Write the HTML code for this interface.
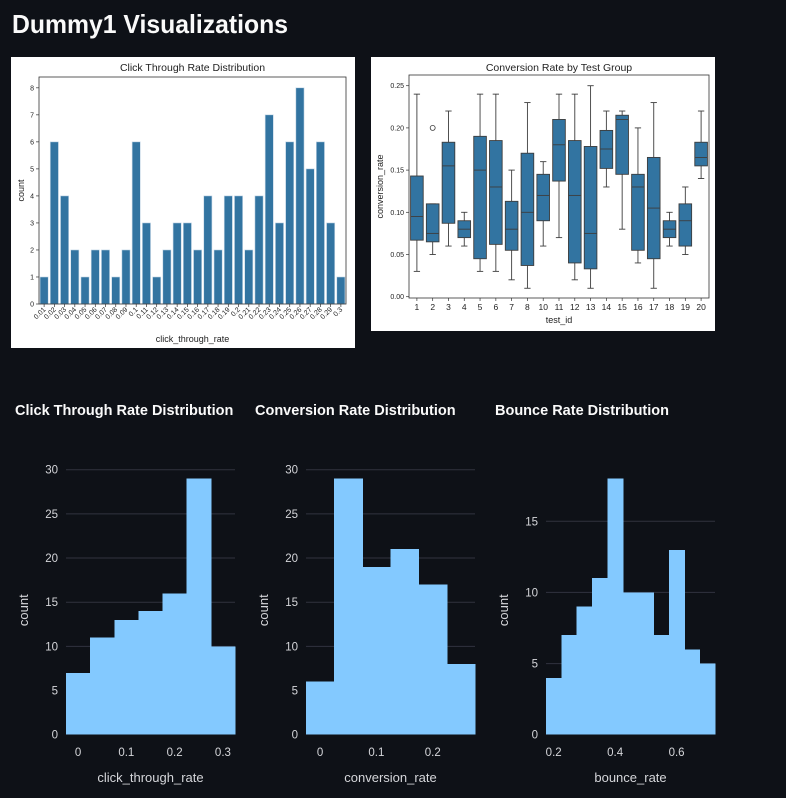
<!DOCTYPE html>
<html><head><meta charset="utf-8"><style>
html,body{margin:0;padding:0;background:#0e1117;}
svg{display:block;font-family:"Liberation Sans",sans-serif;}
</style></head><body>
<svg id="root" width="786" height="798" xmlns="http://www.w3.org/2000/svg">
<rect width="786" height="798" fill="#0e1117"/>
<text x="12" y="33" fill="#fafafa" font-size="26" font-weight="bold" textLength="276" lengthAdjust="spacingAndGlyphs">Dummy1 Visualizations</text>
<g id="c1"></g>
<g id="c2"></g>
<g id="h1"></g>
<g id="h2"></g>
<g id="h3"></g>
</svg>
<script>
const ctrCats=["0.01","0.02","0.03","0.04","0.05","0.06","0.07","0.08","0.09","0.1","0.11","0.12","0.13","0.14","0.15","0.16","0.17","0.18","0.19","0.2","0.21","0.22","0.23","0.24","0.25","0.26","0.27","0.28","0.29","0.3"];
const ctrCounts=[1,6,4,2,1,2,2,1,2,6,3,1,2,3,3,2,4,2,4,4,2,4,7,3,6,8,5,6,3,1];
const ctrYTicks=[0,1,2,3,4,5,6,7,8];
const boxGroups=["1","2","3","4","5","6","7","8","10","11","12","13","14","15","16","17","18","19","20"];
const boxLow=[0.03,0.05,0.06,0.06,0.03,0.03,0.02,0.01,0.06,0.07,0.02,0.01,0.13,0.08,0.04,0.01,0.06,0.05,0.14];
const boxQ1=[0.067,0.065,0.087,0.07,0.045,0.062,0.055,0.037,0.09,0.137,0.04,0.033,0.152,0.145,0.055,0.045,0.07,0.06,0.155];
const boxMed=[0.095,0.075,0.155,0.08,0.15,0.13,0.08,0.10,0.12,0.18,0.12,0.075,0.175,0.21,0.13,0.105,0.08,0.09,0.165];
const boxQ3=[0.143,0.11,0.183,0.09,0.19,0.185,0.113,0.17,0.145,0.21,0.185,0.178,0.197,0.215,0.145,0.165,0.09,0.11,0.183];
const boxHigh=[0.24,0.11,0.22,0.10,0.24,0.24,0.15,0.23,0.16,0.24,0.24,0.25,0.22,0.22,0.20,0.23,0.10,0.13,0.22];
const boxOutlierGroup=["2"];
const boxOutlierVal=[0.20];
const boxYTicks=[0,0.05,0.10,0.15,0.20,0.25];
const h1Counts=[7,11,13,14,16,29,10];
const h1Start=-0.025, binW=0.05;
const h1XTicks=[0,0.1,0.2,0.3];
const h1YTicks=[0,5,10,15,20,25,30];
const h2Counts=[6,29,19,21,17,8];
const h2Start=-0.025;
const h2XTicks=[0,0.1,0.2];
const h2YTicks=[0,5,10,15,20,25,30];
const h3Counts=[4,7,9,11,18,10,10,7,13,6,5];
const h3Start=0.175;
const h3XTicks=[0.2,0.4,0.6];
const h3YTicks=[0,5,10,15];

const NS="http://www.w3.org/2000/svg";
function mk(parent,tag,attrs,txt){const e=document.createElementNS(NS,tag);for(const k in attrs)e.setAttribute(k,attrs[k]);if(txt!==undefined)e.textContent=txt;parent.appendChild(e);return e;}
function fmt(v){return v===0?"0":String(+v.toFixed(2));}

(function(){
 const g=document.getElementById('c1');
 let e=mk(g,'rect',{x:11,y:57,width:344,height:291,fill:'#fff'});
 
 const L=39,R=346,T=77,B=304,yMax=8.4;
 const y=v=>B-(v/yMax)*(B-T);
 const step=(R-L)/ctrCats.length;
 const x=i=>L+step*(i+0.5);
 e=mk(g,'text',{x:(L+R)/2,y:71,'text-anchor':'middle','font-size':10.5,fill:'#222'},'Click Through Rate Distribution');
 
 ctrCounts.forEach((c,i)=>{
  const b=mk(g,'rect',{x:x(i)-step*0.4,y:y(c),width:step*0.8,height:B-y(c),fill:'#3274a1',stroke:'#c8d9e8','stroke-width':0.6});
  
  mk(g,'line',{x1:x(i),x2:x(i),y1:B,y2:B+3,stroke:'#333','stroke-width':0.7});
  const t=mk(g,'text',{x:x(i)+2,y:B+6,'font-size':7,fill:'#222','text-anchor':'end',transform:`rotate(-45 ${x(i)+2} ${B+6})`},ctrCats[i]);
  
 });
 ctrYTicks.forEach(v=>{
  mk(g,'line',{x1:L-3,x2:L,y1:y(v),y2:y(v),stroke:'#333','stroke-width':0.7});
  const t=mk(g,'text',{x:L-5,y:y(v)+2.5,'font-size':7,fill:'#222','text-anchor':'end'},String(v));
  
 });
 e=mk(g,'rect',{x:L,y:T,width:R-L,height:B-T,fill:'none',stroke:'#333','stroke-width':0.8});
 
 e=mk(g,'text',{x:(L+R)/2,y:342,'text-anchor':'middle','font-size':9,fill:'#222'},'click_through_rate');
 
 e=mk(g,'text',{x:24,y:(T+B)/2,'text-anchor':'middle','font-size':9,fill:'#222',transform:`rotate(-90 24 ${(T+B)/2})`},'count');
 
})();

(function(){
 const g=document.getElementById('c2');
 let e=mk(g,'rect',{x:371,y:57,width:344,height:274,fill:'#fff'});
 
 const L=409,R=709,T=75,B=298,y0=296.7,y25=85.7;
 const y=v=>y0-(v/0.25)*(y0-y25);
 const step=(R-L)/boxGroups.length;
 const x=i=>L+step*(i+0.5);
 e=mk(g,'text',{x:(L+R)/2,y:71,'text-anchor':'middle','font-size':10.5,fill:'#222'},'Conversion Rate by Test Group');
 
 boxGroups.forEach((gr,i)=>{
  const cx=x(i),w=step*0.8;
  mk(g,'line',{x1:cx,x2:cx,y1:y(boxLow[i]),y2:y(boxQ1[i]),stroke:'#3d3d3d','stroke-width':0.9});
  mk(g,'line',{x1:cx,x2:cx,y1:y(boxQ3[i]),y2:y(boxHigh[i]),stroke:'#3d3d3d','stroke-width':0.9});
  mk(g,'line',{x1:cx-w/4,x2:cx+w/4,y1:y(boxLow[i]),y2:y(boxLow[i]),stroke:'#3d3d3d','stroke-width':0.9});
  mk(g,'line',{x1:cx-w/4,x2:cx+w/4,y1:y(boxHigh[i]),y2:y(boxHigh[i]),stroke:'#3d3d3d','stroke-width':0.9});
  const b=mk(g,'rect',{x:cx-w/2,y:y(boxQ3[i]),width:w,height:y(boxQ1[i])-y(boxQ3[i]),fill:'#3274a1',stroke:'#3d3d3d','stroke-width':0.9});
  
  mk(g,'line',{x1:cx-w/2,x2:cx+w/2,y1:y(boxMed[i]),y2:y(boxMed[i]),stroke:'#3d3d3d','stroke-width':0.9});
  mk(g,'line',{x1:cx,x2:cx,y1:B,y2:B+3,stroke:'#333','stroke-width':0.7});
  const t=mk(g,'text',{x:cx,y:B+12,'font-size':8.5,fill:'#222','text-anchor':'middle'},gr);
  
 });
 boxOutlierGroup.forEach((gr,k)=>{
  const i=boxGroups.indexOf(gr);
  const o=mk(g,'circle',{cx:x(i),cy:y(boxOutlierVal[k]),r:2.5,fill:'none',stroke:'#3d3d3d','stroke-width':0.8});
  
 });
 boxYTicks.forEach(v=>{
  mk(g,'line',{x1:L-3,x2:L,y1:y(v),y2:y(v),stroke:'#333','stroke-width':0.7});
  const t=mk(g,'text',{x:L-5,y:y(v)+2.5,'font-size':7,fill:'#222','text-anchor':'end'},v.toFixed(2));
  
 });
 e=mk(g,'rect',{x:L,y:T,width:R-L,height:B-T,fill:'none',stroke:'#333','stroke-width':0.8});
 
 e=mk(g,'text',{x:(L+R)/2,y:323,'text-anchor':'middle','font-size':9,fill:'#222'},'test_id');
 
 e=mk(g,'text',{x:383,y:(T+B)/2,'text-anchor':'middle','font-size':9,fill:'#222',transform:`rotate(-90 383 ${(T+B)/2})`},'conversion_rate');
 
})();

function hist(id,title,titleX,L,R,xMin,xMax,yPerUnit,counts,start,xTicks,yTicks,xLabel,name){
 const g=document.getElementById(id);
 const B=734.7,T=469.7;
 const x=v=>L+(v-xMin)/(xMax-xMin)*(R-L);
 const y=v=>B-v*yPerUnit;
 let e=mk(g,'text',{x:titleX,y:415,'font-size':14.5,'font-weight':'bold',fill:'#fafafa'},title);
 
 yTicks.forEach(v=>{
  if(v>0){const l=mk(g,'line',{x1:L,x2:R,y1:y(v),y2:y(v),stroke:'#31333f','stroke-width':1});
  }
  const t=mk(g,'text',{x:L-8,y:y(v)+4,'font-size':11.5,fill:'#d5d6da','text-anchor':'end'},String(v));
  
 });
 counts.forEach((c,i)=>{
  const x0=x(start+i*binW),x1=x(start+(i+1)*binW);
  const b=mk(g,'rect',{x:x0,y:y(c),width:x1-x0+0.5,height:B-y(c),fill:'#83c9ff','shape-rendering':'crispEdges'});
  
 });
 xTicks.forEach(v=>{
  const t=mk(g,'text',{x:x(v),y:756,'font-size':11.5,fill:'#d5d6da','text-anchor':'middle'},fmt(v));
  
 });
 e=mk(g,'text',{x:(L+R)/2,y:782,'font-size':13,fill:'#d5d6da','text-anchor':'middle'},xLabel);
 
 const yx=L-38;
 e=mk(g,'text',{x:yx,y:(T+B)/2+8,'font-size':13,fill:'#d5d6da','text-anchor':'middle',transform:`rotate(-90 ${yx} ${(T+B)/2+8})`},'count');
 
}
hist('h1','Click Through Rate Distribution',15,66,235,-0.025,0.325,265/30,h1Counts,h1Start,h1XTicks,h1YTicks,'click_through_rate','ctr-hist');
hist('h2','Conversion Rate Distribution',255,306,475,-0.025,0.275,265/30,h2Counts,h2Start,h2XTicks,h2YTicks,'conversion_rate','conv-hist');
hist('h3','Bounce Rate Distribution',495,546,715,0.175,0.725,(734.7-521.3)/15,h3Counts,h3Start,h3XTicks,h3YTicks,'bounce_rate','bounce-hist');
</script>
</body></html>
